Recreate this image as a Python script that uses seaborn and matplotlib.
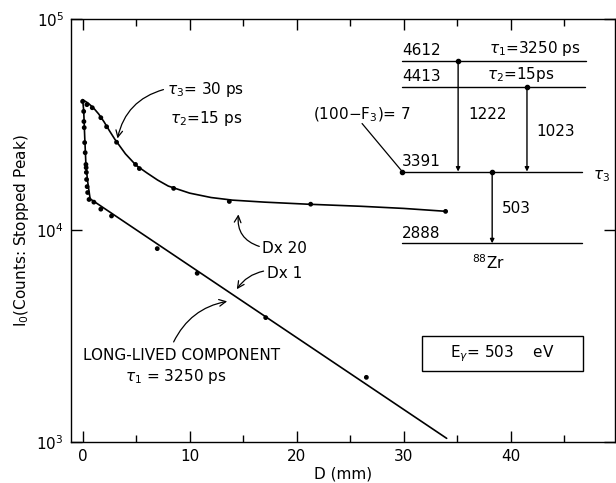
import numpy as np
import pandas as pd
import seaborn as sns
import matplotlib.pyplot as plt
from matplotlib.patches import Rectangle
from matplotlib.ticker import MultipleLocator, LogLocator, NullLocator

# measured points, D x 20 run (upper)
d20_pts = [0.0, 0.4, 0.9, 1.7, 2.24, 3.17, 4.94, 5.3, 8.5, 13.7, 21.3, 33.9]
i20_pts = [40700, 39300, 38000, 34100, 30900, 26100, 20500, 19600, 15800, 13700, 13300, 12300]

# measured points, D x 1 run (lower)
d1_pts = [0.1, 0.12, 0.15, 0.19, 0.24, 0.31, 0.33, 0.35, 0.37, 0.42, 0.47, 0.6, 1.05, 1.7, 2.7,
          6.97, 10.7, 17.1, 26.5]
i1_pts = [36500, 32700, 30600, 26000, 23300, 20500, 19800, 18800, 17400, 16100, 15100, 14000,
          13600, 12600, 11700, 8200, 6270, 3870, 2020]

# fitted curves
d20_fit = [0, 0.5, 1, 1.5, 2, 2.5, 3, 4, 5, 6, 7, 8, 10, 12, 14, 17, 21, 26, 30, 34]
i20_fit = [41500, 40000, 38000, 35500, 32600, 29600, 27000, 23000, 20300, 18700, 17300, 16200,
           15000, 14300, 13900, 13600, 13300, 13000, 12700, 12300]
d1_fit = [0, 0.1, 0.2, 0.3, 0.45, 0.7, 34.0]
i1_fit = [41500, 37000, 27300, 20900, 17300, 14100, 1040]

# level scheme of 88Zr (keV) and where the levels sit in the picture
levels = ["4612", "4413", "3391", "2888"]
level_y = [63400, 47800, 18970, 8690]
level_x1 = [47.0, 46.9, 46.6, 46.6]
gammas = ["1222", "1023", "503"]

sns.set_theme(style="ticks")
plt.rcParams["font.family"] = ["DejaVu Sans"]
plt.rcParams["mathtext.fontset"] = "dejavusans"
plt.rcParams["text.color"] = "black"
plt.rcParams["axes.labelcolor"] = "black"

fig = plt.figure(figsize=(6.16, 4.83), dpi=100)
ax = fig.add_axes([0.115, 0.085, 0.883, 0.876])

fit20 = pd.DataFrame({"D": d20_fit, "I": i20_fit})
fit1 = pd.DataFrame({"D": d1_fit, "I": i1_fit})
sns.lineplot(data=fit20, x="D", y="I", sort=False, estimator=None, color="black", lw=1.2, ax=ax)
sns.lineplot(data=fit1, x="D", y="I", sort=False, estimator=None, color="black", lw=1.2, ax=ax)

pts = pd.DataFrame({"D": d20_pts + d1_pts, "I": i20_pts + i1_pts})
sns.scatterplot(data=pts, x="D", y="I", color="black", s=12, edgecolor="none", ax=ax, zorder=3)

ax.set_yscale("log")
ax.set_xlim(-1.1, 49.7)
ax.set_ylim(1e3, 1e5)
ax.xaxis.set_major_locator(MultipleLocator(10))
ax.xaxis.set_minor_locator(MultipleLocator(5))
ax.yaxis.set_major_locator(LogLocator(base=10))
ax.yaxis.set_minor_locator(NullLocator())
ax.tick_params(which="both", direction="in", top=True, right=True, labelsize=11, color="black",
               width=1.0, labelcolor="black", pad=5)
ax.tick_params(which="major", length=8)
ax.tick_params(which="minor", length=5)
for s in ax.spines.values():
    s.set_visible(True)
    s.set_color("black")
    s.set_linewidth(1.0)

ax.set_xlabel("D (mm)", fontsize=11, labelpad=2)
ax.set_ylabel(r"I$_0$(Counts: Stopped Peak)", fontsize=11, labelpad=4)

fs = 11
arrow = dict(arrowstyle="->", color="black", lw=0.9, shrinkA=0, shrinkB=0)

# curve labels
ax.text(7.9, 46300, r"$\tau_3$= 30 ps", fontsize=fs, va="center")
ax.text(8.2, 33700, r"$\tau_2$=15 ps", fontsize=fs, va="center")
ax.annotate("", xy=(3.26, 27200), xytext=(7.55, 46300),
            arrowprops=dict(arrow, connectionstyle="arc3,rad=0.3"))

ax.text(16.8, 8220, "Dx 20", fontsize=fs, va="center")
ax.annotate("", xy=(14.55, 11900), xytext=(16.5, 8400),
            arrowprops=dict(arrow, connectionstyle="arc3,rad=-0.4"))
ax.text(17.25, 6270, "Dx 1", fontsize=fs, va="center")
ax.annotate("", xy=(14.4, 5270), xytext=(16.9, 6420),
            arrowprops=dict(arrow, connectionstyle="arc3,rad=0.2"))

ax.text(0.0, 2550, "LONG-LIVED COMPONENT", fontsize=fs, va="center")
ax.text(4.0, 2030, r"$\tau_1$ = 3250 ps", fontsize=fs, va="center")
ax.annotate("", xy=(13.5, 4620), xytext=(8.5, 2970),
            arrowprops=dict(arrow, connectionstyle="arc3,rad=-0.25"))

# level scheme
for name, y, x1 in zip(levels, level_y, level_x1):
    ax.plot([29.85, x1], [y, y], color="black", lw=1.0)
    ax.text(29.85, y * 1.025, name, fontsize=fs, va="bottom", ha="left")

ax.text(42.2, level_y[0] * 1.025, r"$\tau_1$=3250 ps", fontsize=fs, va="bottom", ha="center")
ax.text(40.9, level_y[1] * 1.025, r"$\tau_2$=15ps", fontsize=fs, va="bottom", ha="center")
ax.text(47.7, 18000, r"$\tau_3$", fontsize=fs, va="center", ha="left")
ax.text(37.9, 7060, r"$^{88}$Zr", fontsize=fs, va="center", ha="center")

trans = [(35.07, level_y[0], level_y[2]), (41.5, level_y[1], level_y[2]), (38.25, level_y[2], level_y[3])]
for (gx, y0, y1), name, lx, ly in zip(trans, gammas, [36.0, 42.35, 39.2], [35300, 29300, 12700]):
    ax.annotate("", xy=(gx, y1), xytext=(gx, y0),
                arrowprops=dict(arrowstyle="-|>", color="black", lw=1.0, mutation_scale=6,
                                shrinkA=0, shrinkB=0))
    ax.plot([gx], [y0], "o", color="black", ms=3)
    ax.text(lx, ly, name, fontsize=fs, va="center", ha="left")

ax.text(21.5, 35300, r"(100$-$F$_3$)= 7", fontsize=fs, va="center", ha="left")
ax.plot([26.1, 29.85], [32000, level_y[2]], color="black", lw=0.9)
ax.plot([29.85], [level_y[2]], "o", color="black", ms=3)

# energy box
ax.add_patch(Rectangle((31.7, 2160), 15.0, 1000, fill=False, ec="black", lw=1.0))
ax.text(39.2, 2600, r"E$_\gamma$= 503    eV", fontsize=fs, va="center", ha="center")

fig.savefig("out.png", dpi=100)
